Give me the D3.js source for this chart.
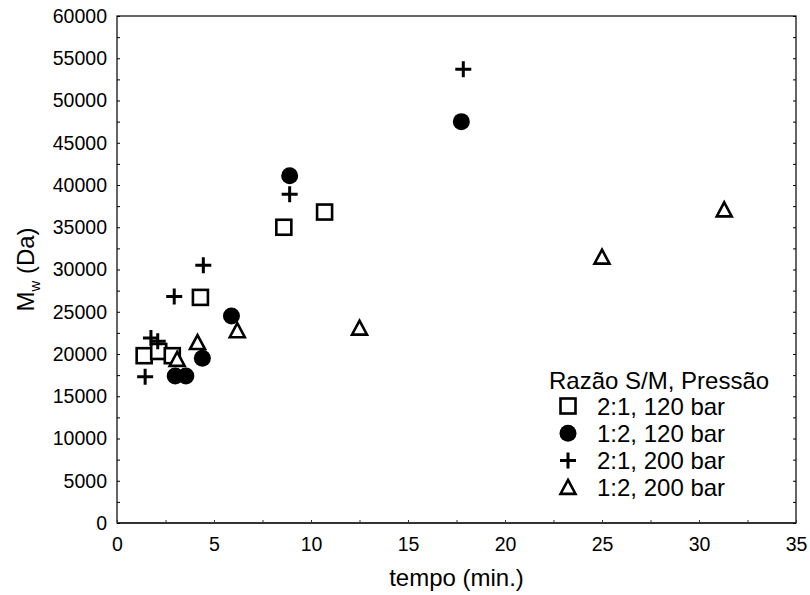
<!DOCTYPE html>
<html><head><meta charset="utf-8">
<script src="https://cdn.jsdelivr.net/npm/d3@7"></script>
<style>body{margin:0;background:#fff}svg{display:block}text{font-family:"Liberation Sans",Arial,sans-serif;fill:#000}</style>
</head><body>
<script>
const xTicks = [0,5,10,15,20,25,30,35];
const yTicks = [0,5000,10000,15000,20000,25000,30000,35000,40000,45000,50000,55000,60000];
const seriesNames = ["2:1, 120 bar","1:2, 120 bar","2:1, 200 bar","1:2, 200 bar"];
const seriesSymbols = ["square","circle","plus","triangle"];
const s1x = [1.4,2.15,2.85,4.3,8.6,10.7];
const s1y = [19800,20300,19800,26700,35000,36800];
const s2x = [3.0,3.55,4.4,5.9,8.9,17.75];
const s2y = [17400,17400,19500,24500,41100,47500];
const s3x = [1.45,1.75,2.1,2.95,4.45,8.9,17.85];
const s3y = [17300,21900,21500,26800,30500,38900,53700];
const s4x = [3.1,4.15,6.2,12.5,25.0,31.3];
const s4y = [19300,21300,22700,23000,31400,37000];
const legendTitle = "Razão S/M, Pressão";

const W=810,H=595, L=117, R=796, T=16, B=523;
const svg = d3.select("body").append("svg").attr("width",W).attr("height",H);
const x = d3.scaleLinear().domain([0,35]).range([L,R]);
const y = d3.scaleLinear().domain([0,60000]).range([B,T]);

// frame
svg.append("rect").attr("x",L).attr("y",T).attr("width",R-L).attr("height",B-T).attr("fill","none").attr("stroke","#000").attr("stroke-width",1.2);
svg.append("line").attr("x1",L).attr("x2",R).attr("y1",B).attr("y2",B).attr("stroke","#333").attr("stroke-width",2.2);

// x axis
const xa = svg.append("g").attr("transform",`translate(0,${B})`)
  .call(d3.axisBottom(x).tickValues(d3.range(0,35.01,2.5)).tickSize(-3).tickPadding(14).tickFormat(d=>xTicks.includes(d)?d:""));
xa.select(".domain").remove();
xa.selectAll("line").attr("stroke","#333");
xa.selectAll("text").attr("font-size",19.5).style("font-family","Liberation Sans, Arial, sans-serif");

// y axis
const ya = svg.append("g").attr("transform",`translate(${L},0)`)
  .call(d3.axisLeft(y).tickValues(d3.range(0,60001,2500)).tickSize(-3).tickPadding(10).tickFormat(d=>yTicks.includes(d)?d:""));
ya.select(".domain").remove();
ya.selectAll("line").attr("stroke","#000");
ya.selectAll("text").attr("font-size",19.5).style("font-family","Liberation Sans, Arial, sans-serif");
// right ticks
const yr = svg.append("g").attr("transform",`translate(${R},0)`)
  .call(d3.axisRight(y).tickValues(d3.range(0,60001,2500)).tickSize(-3).tickFormat(""));
yr.select(".domain").remove();
yr.selectAll("line").attr("stroke","#000");

// axis titles
svg.append("text").attr("x",(L+R)/2).attr("y",586).attr("text-anchor","middle").attr("font-size",24).text("tempo (min.)");
const yt = svg.append("text").attr("transform",`translate(34,${(T+B)/2}) rotate(-90)`).attr("text-anchor","middle").attr("font-size",24);
yt.append("tspan").text("M");
yt.append("tspan").attr("font-size",15).attr("dy",6).text("w");
yt.append("tspan").attr("dy",-6).text(" (Da)");

function drawSym(g, type, cx, cy){
  if(type==="square") g.append("rect").attr("x",cx-7.5).attr("y",cy-7.5).attr("width",15).attr("height",15).attr("fill","#fff").attr("stroke","#000").attr("stroke-width",2.6);
  else if(type==="circle") g.append("circle").attr("cx",cx).attr("cy",cy).attr("r",8.5).attr("fill","#000");
  else if(type==="plus") g.append("path").attr("d",`M${cx-8},${cy}H${cx+8}M${cx},${cy-8}V${cy+8}`).attr("stroke","#000").attr("stroke-width",3).attr("fill","none");
  else if(type==="triangle") g.append("path").attr("d",`M${cx},${cy-8}L${cx+7.5},${cy+6}L${cx-7.5},${cy+6}Z`).attr("fill","#fff").attr("stroke","#000").attr("stroke-width",2.6).attr("stroke-linejoin","miter");
}
const allSeries = [[s1x,s1y],[s2x,s2y],[s3x,s3y],[s4x,s4y]];
const pg = svg.append("g");
allSeries.forEach((s,i)=>{
  s[0].forEach((xv,j)=>drawSym(pg, seriesSymbols[i], x(xv), y(s[1][j])));
});

// legend
const lg = svg.append("g");
lg.append("text").attr("x",549).attr("y",389).attr("font-size",24).text(legendTitle);
seriesNames.forEach((n,i)=>{
  const cy = 406 + i*27.3;
  drawSym(lg, seriesSymbols[i], 568, cy);
  lg.append("text").attr("x",597).attr("y",cy+8.5).attr("font-size",24).text(n);
});
</script>
</body></html>
